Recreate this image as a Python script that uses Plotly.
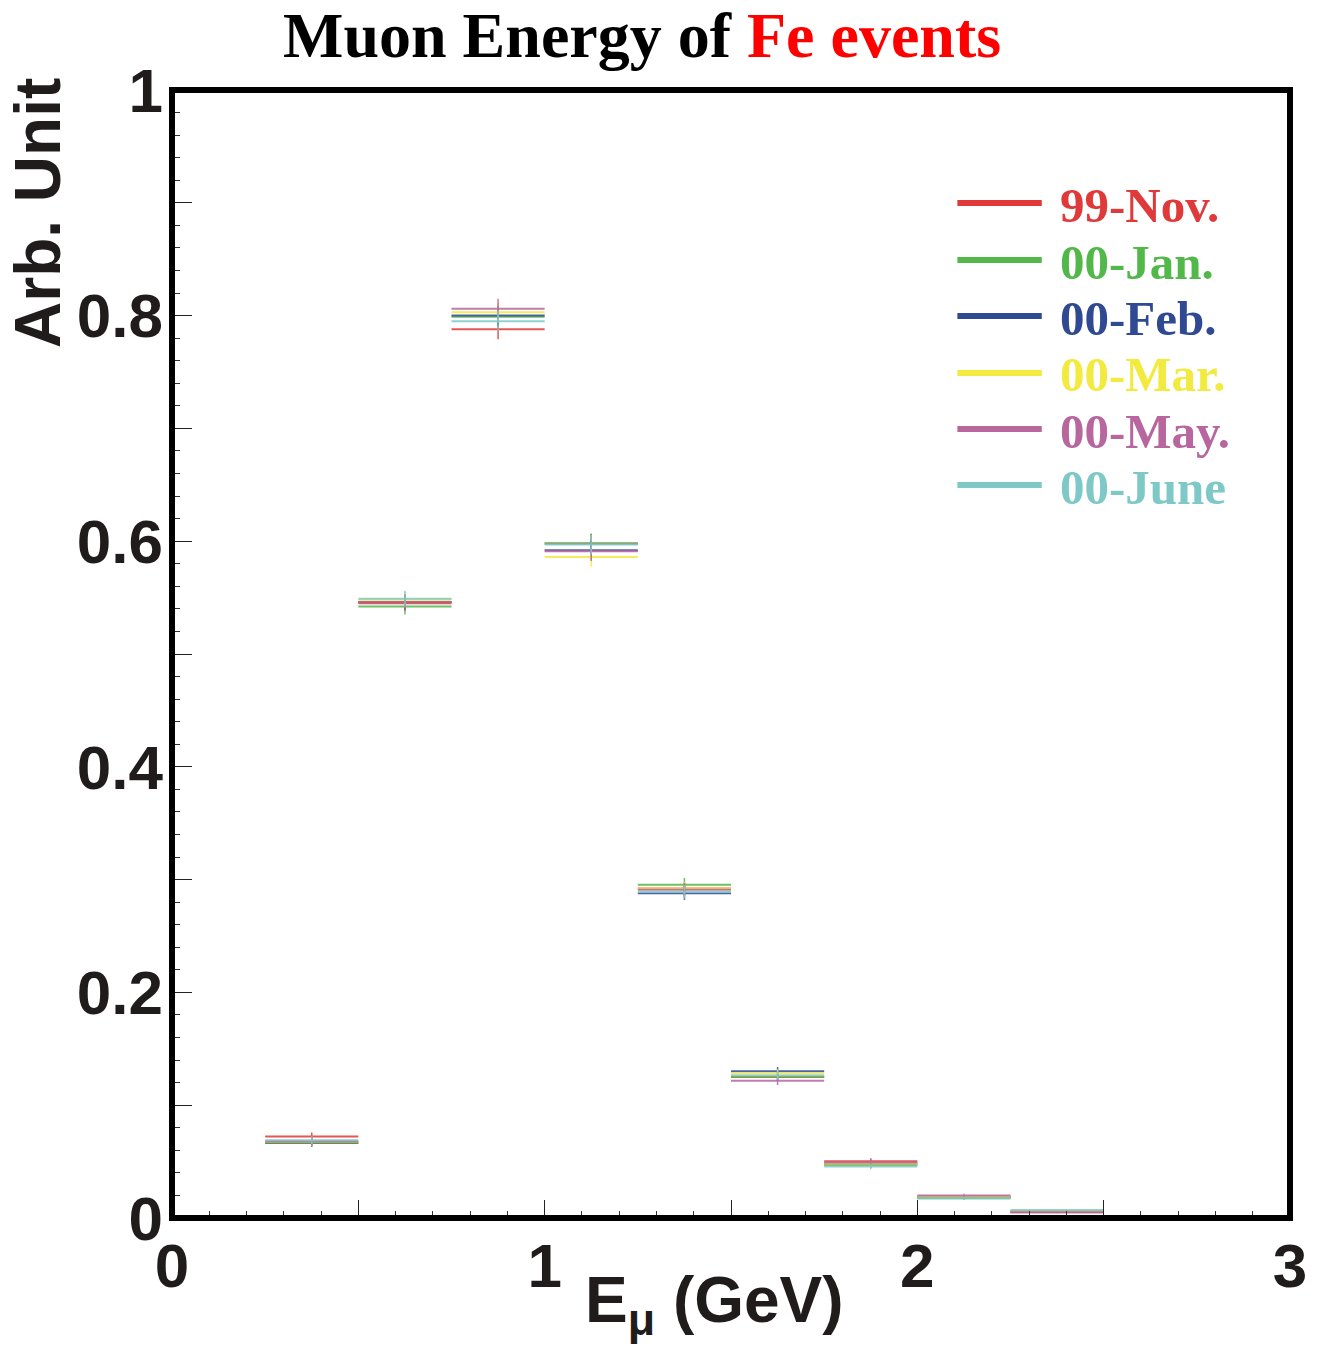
import plotly.graph_objects as go

# ---------------- data ----------------
bin_edges = [0.0, 0.25, 0.5, 0.75, 1.0, 1.25, 1.5, 1.75, 2.0, 2.25, 2.5, 2.75, 3.0]
bin_centers = [0.125, 0.375, 0.625, 0.875, 1.125, 1.375, 1.625, 1.875, 2.125, 2.375, 2.625, 2.875]
half_width = 0.125

series_names = ["99-Nov.", "00-Jan.", "00-Feb.", "00-Mar.", "00-May.", "00-June"]
series_colors = ["#e0393a", "#52b84a", "#2f4a92", "#f2ea3e", "#b8669e", "#7ec9c8"]

nov99 = [0.0, 0.0723, 0.545, 0.788, 0.598, 0.292, 0.125, 0.0504, 0.0190, 0.0052, 0.0005, 0.0]
jan00 = [0.0, 0.0664, 0.542, 0.799, 0.598, 0.2955, 0.1253, 0.0469, 0.0176, 0.0058, 0.0005, 0.0]
feb00 = [0.0, 0.0670, 0.546, 0.800, 0.592, 0.288, 0.130, 0.0480, 0.0183, 0.0060, 0.0005, 0.0]
mar00 = [0.0, 0.0676, 0.548, 0.803, 0.586, 0.292, 0.128, 0.0481, 0.0189, 0.0060, 0.0005, 0.0]
may00 = [0.0, 0.0680, 0.546, 0.806, 0.591, 0.291, 0.1217, 0.0493, 0.0200, 0.0050, 0.0005, 0.0]
jun00 = [0.0, 0.0690, 0.549, 0.795, 0.597, 0.289, 0.1264, 0.0457, 0.0176, 0.0070, 0.0010, 0.0]
series_values = [nov99, jan00, feb00, mar00, may00, jun00]

bin_errors = [0.0, 0.0035, 0.007, 0.009, 0.0085, 0.006, 0.0038, 0.0025, 0.0015, 0.0008, 0.0003, 0.0]

y_tickvals = [0.0, 0.1, 0.2, 0.3, 0.4, 0.5, 0.6, 0.7, 0.8, 0.9, 1.0]
y_ticktext = ["0", "", "0.2", "", "0.4", "", "0.6", "", "0.8", "", "1"]
x_tickvals = [0.0, 0.5, 1.0, 1.5, 2.0, 2.5, 3.0]
x_ticktext = ["0", "", "1", "", "2", "", "3"]

# ---------------- layout geometry (pixels) ----------------
W, H = 1319, 1350
L, R, T, B = 172, 1298, 90, 1218

def px_x(px):
    return (px - L) / (R - L)

def px_y(py):
    return (B - py) / (B - T)

fig = go.Figure()
for name, color, vals in zip(series_names, series_colors, series_values):
    fig.add_trace(go.Scatter(
        x=bin_centers, y=vals, mode="markers", name=name,
        marker=dict(size=1, color=color, opacity=0),
        error_x=dict(type="constant", value=half_width, color=color, thickness=2, width=0),
        error_y=dict(type="data", array=bin_errors, color=color, thickness=1.5, width=0),
        opacity=0.85, showlegend=False, hoverinfo="skip",
    ))

tick_font = dict(family="Liberation Sans, Arial, sans-serif", size=62, color="#201c1c", weight="bold")

fig.update_layout(
    width=W, height=H,
    margin=dict(l=L, r=W - R, t=T, b=H - B, pad=0),
    plot_bgcolor="white", paper_bgcolor="white",
    xaxis=dict(
        range=[0, 3], tickmode="array", tickvals=x_tickvals, ticktext=x_ticktext,
        ticks="inside", ticklen=18, tickwidth=1, tickcolor="#222",
        minor=dict(ticks="inside", ticklen=7, tickwidth=1, tickcolor="#333",
                   tickmode="linear", tick0=0, dtick=0.1, showgrid=False),
        showgrid=False, zeroline=False, showline=False,
        tickfont=tick_font, ticklabelstandoff=6,
    ),
    yaxis=dict(
        range=[0, 1], tickmode="array", tickvals=y_tickvals, ticktext=y_ticktext,
        ticks="inside", ticklen=20, tickwidth=1, tickcolor="#222",
        minor=dict(ticks="inside", ticklen=8, tickwidth=1, tickcolor="#333",
                   tickmode="linear", tick0=0, dtick=0.02, showgrid=False),
        showgrid=False, zeroline=False, showline=False,
        tickfont=tick_font, ticklabelstandoff=8,
    ),
)

# frame
fig.add_shape(type="rect", xref="paper", yref="paper", x0=0, x1=1, y0=0, y1=1,
              line=dict(color="black", width=6), fillcolor="rgba(0,0,0,0)", layer="above")

# title
fig.add_annotation(
    xref="paper", yref="paper", x=px_x(645), y=px_y(35), xanchor="center", yanchor="middle",
    text="<b>Muon Energy of <span style='color:#ff0000'>Fe events</span></b>",
    showarrow=False, font=dict(family="Liberation Serif, Times New Roman, serif", size=64, color="black"),
)

# axis titles
axis_font = dict(family="Liberation Sans, Arial, sans-serif", size=64, color="#201c1c")
fig.add_annotation(
    xref="paper", yref="paper", x=px_x(37), y=px_y(213), xanchor="center", yanchor="middle",
    text="<b>Arb. Unit</b>", textangle=-90, showarrow=False, font=axis_font,
)
fig.add_annotation(
    xref="paper", yref="paper", x=px_x(718), y=px_y(1304), xanchor="center", yanchor="middle",
    text="<b>E<sub>μ</sub> (GeV)</b>", showarrow=False, font=axis_font,
)

# legend (manual)
leg_rows = [203, 260, 316, 373, 429, 485]
for name, color, py in zip(series_names, series_colors, leg_rows):
    fig.add_shape(type="line", xref="paper", yref="paper",
                  x0=px_x(963), x1=px_x(1048), y0=px_y(py), y1=px_y(py),
                  line=dict(color=color, width=6))
    fig.add_annotation(
        xref="paper", yref="paper", x=px_x(1064), y=px_y(py + 2), xanchor="left", yanchor="middle",
        text="<b>" + name + "</b>", showarrow=False,
        font=dict(family="Liberation Serif, Times New Roman, serif", size=49, color=color),
    )

fig.write_html("out.html")
